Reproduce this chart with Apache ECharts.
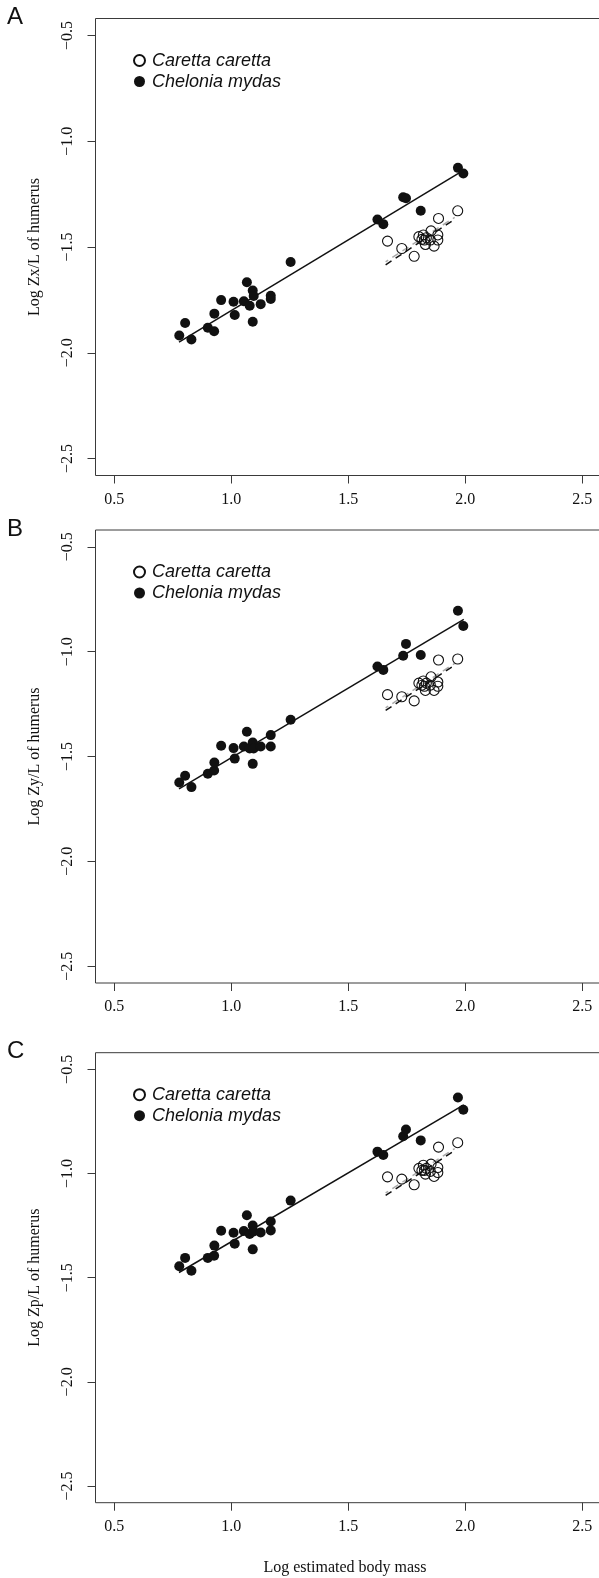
<!DOCTYPE html>
<html>
<head>
<meta charset="utf-8">
<script src="https://cdn.jsdelivr.net/npm/echarts@6/dist/echarts.min.js"></script>
<style>
  html, body { margin: 0; padding: 0; background: #fff; }
  #chart { width: 599px; height: 1578px; }
</style>
</head>
<body>
<div id="chart"></div>
<script>
// log estimated body mass, same specimens in all three panels
const cheloniaMass = [0.778, 0.803, 0.830, 0.900, 0.927, 0.928, 0.957, 1.010, 1.015, 1.054, 1.067, 1.079, 1.092,
  1.096, 1.092, 1.126, 1.169, 1.169, 1.254, 1.625, 1.650, 1.735, 1.747, 1.810, 1.969, 1.992];
const carettaMass = [1.668, 1.729, 1.782, 1.802, 1.821, 1.826, 1.830, 1.854, 1.851, 1.867, 1.883, 1.883, 1.886,
  1.968, 1.834, 1.815];

// panel A: Zx/L
const cheloniaZx = [-1.918, -1.859, -1.937, -1.882, -1.898, -1.815, -1.751, -1.759, -1.821, -1.756, -1.667, -1.778,
  -1.706, -1.732, -1.853, -1.770, -1.730, -1.746, -1.571, -1.370, -1.392, -1.265, -1.270, -1.329, -1.126, -1.153];
const carettaZx = [-1.472, -1.507, -1.544, -1.451, -1.443, -1.467, -1.488, -1.424, -1.467, -1.496, -1.443, -1.467,
  -1.365, -1.329, -1.456, -1.464];
// panel B: Zy/L
const cheloniaZy = [-1.624, -1.592, -1.646, -1.582, -1.567, -1.529, -1.449, -1.460, -1.510, -1.452, -1.382, -1.462,
  -1.433, -1.462, -1.535, -1.452, -1.398, -1.452, -1.325, -1.071, -1.087, -1.020, -0.963, -1.016, -0.805, -0.878];
const carettaZy = [-1.205, -1.215, -1.235, -1.150, -1.140, -1.165, -1.185, -1.120, -1.160, -1.185, -1.145, -1.165,
  -1.040, -1.035, -1.150, -1.160];
// panel C: Zp/L
const cheloniaZp = [-1.445, -1.405, -1.467, -1.405, -1.395, -1.346, -1.275, -1.284, -1.337, -1.276, -1.200, -1.290,
  -1.250, -1.278, -1.364, -1.283, -1.230, -1.273, -1.130, -0.895, -0.911, -0.821, -0.789, -0.841, -0.635, -0.694];
const carettaZp = [-1.016, -1.027, -1.054, -0.975, -0.960, -0.985, -1.003, -0.955, -0.990, -1.014, -0.971, -0.995,
  -0.873, -0.852, -0.975, -0.985];

// fitted lines (end points)
const cheloniaFitX = [0.777, 1.994];
const cheloniaFitZx = [-1.950, -1.137];
const cheloniaFitZy = [-1.654, -0.846];
const cheloniaFitZp = [-1.475, -0.670];
const carettaFitX = [1.66, 1.955];
const carettaFitZx = [-1.584, -1.369];
const carettaFitZy = [-1.280, -1.065];
const carettaFitZp = [-1.105, -0.890];
const carettaFit2Zx = [-1.570, -1.360];
const carettaFit2Zy = [-1.268, -1.056];
const carettaFit2Zp = [-1.093, -0.880];

const xTicks = [0.5, 1.0, 1.5, 2.0, 2.5];
const yTicks = [-2.5, -2.0, -1.5, -1.0, -0.5];

const panels = [
  { letter: 'A', yName: 'Log Zx/L of humerus', top: 18.5, height: 457, chel: cheloniaZx, car: carettaZx,
    fit: cheloniaFitZx, cfit: carettaFitZx, cfit2: carettaFit2Zx },
  { letter: 'B', yName: 'Log Zy/L of humerus', top: 530, height: 453, chel: cheloniaZy, car: carettaZy,
    fit: cheloniaFitZy, cfit: carettaFitZy, cfit2: carettaFit2Zy },
  { letter: 'C', yName: 'Log Zp/L of humerus', top: 1052.7, height: 450, chel: cheloniaZp, car: carettaZp,
    fit: cheloniaFitZp, cfit: carettaFitZp, cfit2: carettaFit2Zp }
];

const pair = (xs, ys) => xs.map((x, i) => [x, ys[i]]);
const serif = 'Liberation Serif';
const sans = 'Liberation Sans';
const ink = '#111';
const frame = '#3a3a3a';
const fmt = v => String(v.toFixed(1)).replace('-', '\u2212');

const grid = [], xAxis = [], yAxis = [], series = [], legend = [], graphic = [];

panels.forEach((p, i) => {
  // frame runs past the right edge of the page, as in the cropped original
  grid.push({ left: 95.5, top: p.top, width: 509, height: p.height, show: true, borderColor: frame, borderWidth: 1,
    outerBoundsMode: 'none' });
  xAxis.push({
    gridIndex: i, type: 'value', min: 0.42, max: 2.58 + 3.6 / 234,
    axisLine: { show: false },
    axisTick: { show: true, length: 8, lineStyle: { color: frame }, customValues: xTicks },
    axisLabel: { customValues: xTicks, formatter: fmt, margin: 16, fontFamily: serif, fontSize: 16, color: ink },
    splitLine: { show: false },
    name: i === 2 ? 'Log estimated body mass' : '', nameLocation: 'middle', nameGap: 57,
    nameTextStyle: { fontFamily: serif, fontSize: 16, color: ink, padding: [0, 10, 0, 0] }
  });
  yAxis.push({
    gridIndex: i, type: 'value', min: -2.58, max: -0.42,
    axisLine: { show: false },
    axisTick: { show: true, length: 8, lineStyle: { color: frame }, customValues: yTicks },
    axisLabel: { customValues: yTicks, formatter: fmt, rotate: 90, margin: 20, fontFamily: serif, fontSize: 16, color: ink },
    splitLine: { show: false },
    name: p.yName, nameLocation: 'middle', nameGap: 53,
    nameTextStyle: { fontFamily: serif, fontSize: 16, color: ink }
  });
  series.push({
    name: 'Caretta caretta', type: 'scatter', xAxisIndex: i, yAxisIndex: i, symbolSize: 10,
    itemStyle: { color: 'rgba(255,255,255,0)', borderColor: ink, borderWidth: 1.1, opacity: 1 },
    data: pair(carettaMass, p.car), silent: true, z: 3
  });
  series.push({
    name: 'Chelonia mydas', type: 'scatter', xAxisIndex: i, yAxisIndex: i, symbolSize: 10,
    itemStyle: { color: ink, opacity: 1 }, data: pair(cheloniaMass, p.chel), silent: true, z: 3
  });
  series.push({
    type: 'line', xAxisIndex: i, yAxisIndex: i, showSymbol: false, silent: true, z: 2,
    lineStyle: { color: ink, width: 1.5 }, data: pair(cheloniaFitX, p.fit)
  });
  series.push({
    type: 'line', xAxisIndex: i, yAxisIndex: i, showSymbol: false, silent: true, z: 2,
    lineStyle: { color: '#aaa', width: 1.5, type: [7, 5], dashOffset: 4 }, data: pair(carettaFitX, p.cfit2)
  });
  series.push({
    type: 'line', xAxisIndex: i, yAxisIndex: i, showSymbol: false, silent: true, z: 2,
    lineStyle: { color: ink, width: 1.5, type: [7, 5] }, data: pair(carettaFitX, p.cfit)
  });
  legend.push({
    left: 133, top: p.top + 33, orient: 'vertical', padding: 0, itemGap: 3,
    itemWidth: 11, itemHeight: 11, selectedMode: false,
    data: ['Caretta caretta', 'Chelonia mydas'],
    textStyle: { fontFamily: sans, fontStyle: 'italic', fontSize: 18, lineHeight: 18, color: ink, padding: [0, 0, 0, 2] }
  });
  graphic.push({
    type: 'text', left: 7, top: p.top - 13,
    style: { text: p.letter, font: '24px "Liberation Sans"', fill: ink }
  });
});

const chart = echarts.init(document.getElementById('chart'));
chart.setOption({
  backgroundColor: '#fff',
  animation: false,
  grid, xAxis, yAxis, series, legend, graphic
});
</script>
</body>
</html>
